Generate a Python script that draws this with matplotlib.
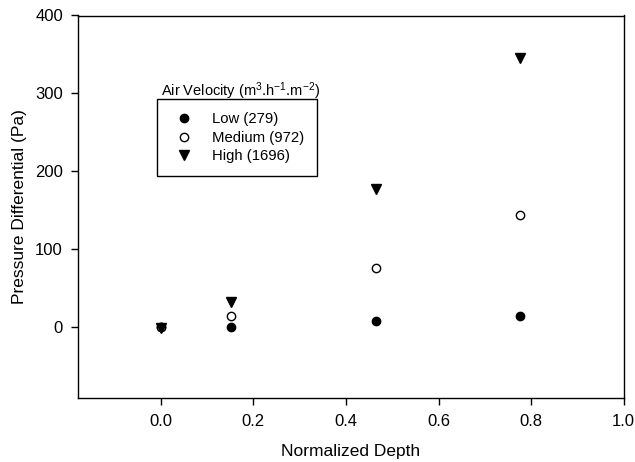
import matplotlib
matplotlib.use("Agg")
import matplotlib.pyplot as plt

plt.rcParams['font.family'] = ['Liberation Sans', 'DejaVu Sans']
plt.rcParams['mathtext.fontset'] = 'custom'
plt.rcParams['mathtext.rm'] = 'Liberation Sans'
plt.rcParams['mathtext.it'] = 'Liberation Sans'
plt.rcParams['mathtext.default'] = 'regular'

depth = [0.0, 0.151, 0.464, 0.776]
low = [0, 1, 8, 15]
medium = [0, 15, 76, 144]
high = [-1, 33, 178, 346]
labels = ["Low (279)", "Medium (972)", "High (1696)"]
xticks = [0.0, 0.2, 0.4, 0.6, 0.8, 1.0]
yticks = [0, 100, 200, 300, 400]

W, H = 635, 462
fig = plt.figure(figsize=(W / 100, H / 100), dpi=100)
ax = fig.add_axes([77.5 / W, 1 - 397.5 / H, (623.7 - 77.5) / W, (397.5 - 15.5) / H])

ms = 6
ax.plot(depth, low, 'o', color='black', markersize=ms, label=labels[0])
ax.plot(depth, medium, 'o', markerfacecolor='white', markeredgecolor='black',
        markeredgewidth=1.0, markersize=ms, label=labels[1])
ax.plot(depth, high, 'v', color='black', markersize=ms + 1, label=labels[2])

ax.set_xlim(-0.18, 1.0)
ax.set_ylim(-90, 400)
ax.set_xticks(xticks)
ax.set_xticklabels([f"{v:.1f}" for v in xticks])
ax.set_yticks(yticks)
ax.tick_params(direction='out', length=5, width=1, labelsize=12, colors='black')
ax.tick_params(axis='x', pad=7)
ax.tick_params(axis='y', pad=5.5)
for s in ax.spines.values():
    s.set_linewidth(1)
    s.set_color('black')

ax.set_xlabel("Normalized Depth", fontsize=12.5, labelpad=11)
ax.set_ylabel("Pressure Differential (Pa)", fontsize=12.5, labelpad=6)

fs = 10.7
leg = ax.legend(loc='upper left', bbox_to_anchor=(156.7 / W, 1 - 99.3 / H),
                bbox_transform=fig.transFigure, borderaxespad=0, fontsize=fs,
                frameon=True, fancybox=False, edgecolor='black', framealpha=1,
                borderpad=0.87, handletextpad=0.86, labelspacing=0.31,
                handlelength=2.0)
leg.get_frame().set_linewidth(1.0)

fig.text(160.7 / W, 1 - 95.5 / H, r"Air Velocity (m$^{3}$.h$^{-1}$.m$^{-2}$)",
         fontsize=10.5, ha='left', va='baseline')

fig.savefig("out.png", dpi=100)
